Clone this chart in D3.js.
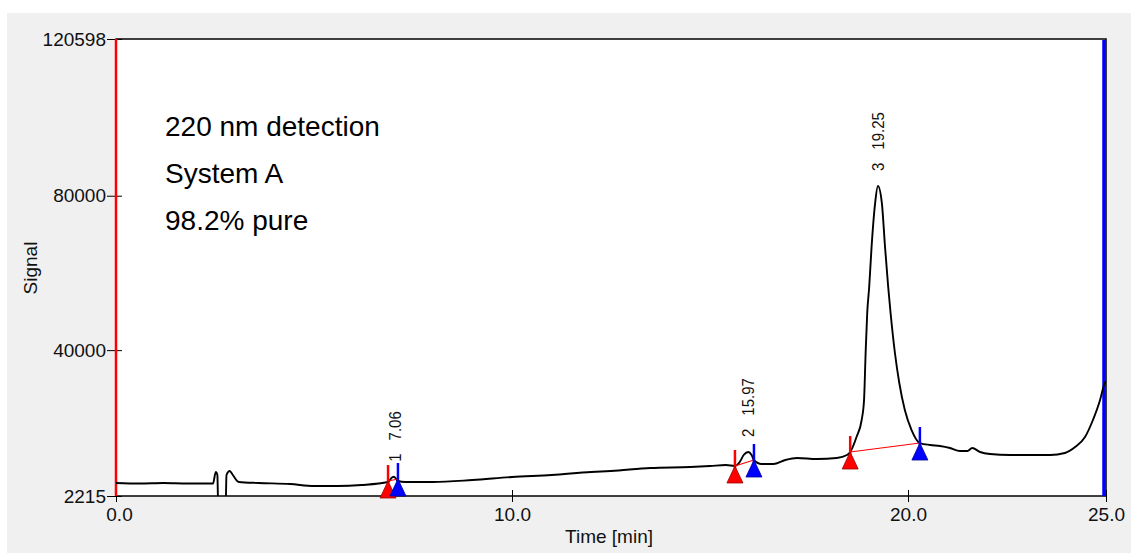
<!DOCTYPE html>
<html lang="en">
	<head>
		<meta charset="utf-8">
		<title>Chromatogram 220 nm</title>
		<script type="text/javascript" src="https://cdn.jsdelivr.net/npm/d3@7"></script>
		<style type="text/css">
			body { margin: 0; background: #fff; }
			text { font-family: "Liberation Sans", Arial, sans-serif; }
		</style>
	</head>
	<body>
		<script type="text/javascript">

			//signal trace, time in minutes and detector signal
			var times = [0.0, 0.6, 1.2, 1.8, 2.45, 2.52, 2.56, 2.58, 2.77, 2.79, 2.87, 2.95, 3.1, 3.6, 4.4, 5.0, 5.6, 6.2,
			             6.87, 6.97, 7.02, 7.12, 7.3, 8.0, 9.0, 10.0, 11.0, 12.0, 12.5, 13.5, 14.5, 15.0, 15.4,
			             15.63, 15.75, 15.85, 15.97, 16.05, 16.11, 16.3, 16.6, 16.9, 17.2, 17.7, 18.2, 18.46,
			             18.54, 18.70, 18.83, 18.89, 18.93, 18.97, 19.02, 19.08, 19.17, 19.24, 19.34, 19.42, 19.50,
			             19.56, 19.67, 19.78, 19.92, 20.09, 20.30, 20.56, 20.81, 21.06, 21.31, 21.5, 21.62, 21.82,
			             22.07, 22.58, 23.59, 23.96, 24.22, 24.47, 24.67, 24.85, 24.95, 25.0];
			var signal = [5580, 5450, 5580, 5450, 5450, 8430, 7660, 0, 0, 7660, 8690, 7660, 5840, 5580, 5320, 4800, 4800, 5060,
			              5840, 7000, 7210, 6100, 5840, 5840, 6360, 7140, 7660, 8430, 8690, 9470, 9730, 9990, 10240,
			              9990, 11020, 12830, 13610, 12830, 11540, 10500, 10500, 11540, 12060, 11800, 12060, 12830,
			              13610, 17500, 21900, 27080, 39260, 49620, 56350, 66720, 78110, 82520, 78110, 66720, 56350,
			              49620, 39260, 31490, 24490, 19310, 15940, 15430, 15170, 14650, 13870, 13870, 14650, 13610,
			              13090, 12830, 12830, 13350, 14910, 17500, 21900, 27080, 30970, 32000];

			//integrated peaks
			var peakIds = ["1", "2", "3"];
			var peakRT = [7.06, 15.97, 19.25];
			var peakTop = [7210, 13610, 82520];
			var peakStart = [6.87, 15.63, 18.54];
			var peakStartSig = [6100, 9990, 13610];
			var peakEnd = [7.12, 16.11, 20.30];
			var peakEndSig = [6620, 11540, 15940];

			var xTicks = [0, 10, 20, 25];
			var yTicks = [2215, 40000, 80000, 120598];
			var notes = ["220 nm detection", "System A", "98.2% pure"];

			var w = 1131;
			var h = 553;
			var plotL = 116, plotR = 1106, plotT = 39, plotB = 496;

			var dataset = times.map(function(t, i) { return { t: t, v: signal[i] }; });
			var peaks = peakIds.map(function(id, i) {
				return { id: id, rt: peakRT[i], top: peakTop[i],
				         s: peakStart[i], sv: peakStartSig[i], e: peakEnd[i], ev: peakEndSig[i] };
			});

			var xScale = d3.scaleLinear().domain([0, 25]).range([plotL, plotR]);
			var yScale = d3.scaleLinear().domain([2215, 120598]).range([plotB, plotT]);

			var svg = d3.select("body")
						.append("svg")
						.attr("width", w)
						.attr("height", h);

			svg.append("rect")
			   .attr("x", 7).attr("y", 13)
			   .attr("width", w - 7).attr("height", h - 13)
			   .attr("fill", "#f0f0f0");

			svg.append("rect")
			   .attr("x", plotL).attr("y", plotT)
			   .attr("width", plotR - plotL).attr("height", plotB - plotT)
			   .attr("fill", "#fff")
			   .attr("stroke", "#000")
			   .attr("stroke-width", 1.5);

			svg.append("clipPath")
			   .attr("id", "plotclip")
			   .append("rect")
			   .attr("x", plotL).attr("y", plotT)
			   .attr("width", plotR - plotL).attr("height", plotB - plotT);

			//axes
			var yAxis = d3.axisLeft(yScale)
						  .tickValues(yTicks)
						  .tickFormat(function(d) { return d; })
						  .tickSize(9)
						  .tickPadding(1);
			var gy = svg.append("g")
			   .attr("transform", "translate(" + plotL + ",0)")
			   .call(yAxis);
			gy.select(".domain").remove();
			gy.selectAll(".tick line").attr("x1", 6).attr("stroke", "#000");
			gy.selectAll(".tick text")
			  .attr("font-size", "19px")
			  .attr("font-family", "'Liberation Sans', Arial, sans-serif")
			  .attr("fill", "#111");

			var xAxis = d3.axisBottom(xScale)
						  .tickValues(xTicks)
						  .tickFormat(d3.format(".1f"))
						  .tickSize(6)
						  .tickPadding(6);
			var gx = svg.append("g")
			   .attr("transform", "translate(0," + plotB + ")")
			   .call(xAxis);
			gx.select(".domain").remove();
			gx.selectAll(".tick line").attr("y1", -6).attr("stroke", "#000");
			gx.selectAll(".tick text")
			  .attr("font-size", "19px")
			  .attr("font-family", "'Liberation Sans', Arial, sans-serif")
			  .attr("fill", "#111")
			  .attr("dx", function(d) { return d === 0 ? 3 : 0; });

			svg.append("text")
			   .text("Time [min]")
			   .attr("x", 609).attr("y", 543)
			   .attr("text-anchor", "middle")
			   .attr("font-size", "19px")
			   .attr("fill", "#111");

			svg.append("text")
			   .text("Signal")
			   .attr("transform", "translate(37,268) rotate(-90)")
			   .attr("text-anchor", "middle")
			   .attr("font-size", "19px")
			   .attr("fill", "#111");

			//start and end markers on the frame
			svg.append("line")
			   .attr("x1", plotL).attr("x2", plotL)
			   .attr("y1", plotT).attr("y2", plotB)
			   .attr("stroke", "#f00").attr("stroke-width", 2.5);
			svg.append("line")
			   .attr("x1", plotR - 2).attr("x2", plotR - 2)
			   .attr("y1", plotT + 1).attr("y2", plotB)
			   .attr("stroke", "#00f").attr("stroke-width", 3.5);

			//trace
			var line = d3.line()
						 .x(function(d) { return xScale(d.t); })
						 .y(function(d) { return yScale(d.v); })
						 .curve(d3.curveMonotoneX);

			svg.append("path")
			   .datum(dataset)
			   .attr("clip-path", "url(#plotclip)")
			   .attr("d", line)
			   .attr("fill", "none")
			   .attr("stroke", "#000")
			   .attr("stroke-width", 1.9);

			//peak baselines
			svg.selectAll("line.base")
			   .data(peaks)
			   .enter()
			   .append("line")
			   .attr("class", "base")
			   .attr("x1", function(d) { return xScale(d.s); })
			   .attr("y1", function(d) { return yScale(d.sv); })
			   .attr("x2", function(d) { return xScale(d.e); })
			   .attr("y2", function(d) { return yScale(d.ev); })
			   .attr("stroke", "#f00")
			   .attr("stroke-width", 1.2);

			function marker(cls, tKey, vKey, colour, edge) {
				svg.selectAll("line." + cls)
				   .data(peaks)
				   .enter()
				   .append("line")
				   .attr("class", cls)
				   .attr("x1", function(d) { return xScale(d[tKey]); })
				   .attr("x2", function(d) { return xScale(d[tKey]); })
				   .attr("y1", function(d) { return yScale(d[vKey]) - 16; })
				   .attr("y2", function(d) { return yScale(d[vKey]) + 4; })
				   .attr("stroke", colour)
				   .attr("stroke-width", 2.5);

				svg.selectAll("path." + cls)
				   .data(peaks)
				   .enter()
				   .append("path")
				   .attr("class", cls)
				   .attr("d", function(d) {
					var px = xScale(d[tKey]), py = yScale(d[vKey]);
					return "M" + px + "," + py + "L" + (px + 8) + "," + (py + 17) + "L" + (px - 8) + "," + (py + 17) + "Z";
				   })
				   .attr("fill", colour)
				   .attr("stroke", edge)
				   .attr("stroke-width", 0.8);
			}
			marker("start", "s", "sv", "#ff0000", "#900");
			marker("end", "e", "ev", "#0000ff", "#009");

			//peak labels
			var labels = svg.selectAll("text.peak")
			   .data(peaks)
			   .enter()
			   .append("text")
			   .attr("class", "peak")
			   .attr("transform", function(d) {
				return "translate(" + xScale(d.rt) + "," + (yScale(d.top) - 15) + ") rotate(-90) scale(1,1.12)";
			   })
			   .attr("dy", "0.35em")
			   .attr("font-size", "15px")
			   .attr("fill", "#111");
			labels.append("tspan").text(function(d) { return d.id; });
			labels.append("tspan").attr("dx", 13).text(function(d) { return d.rt.toFixed(2); });

			//notes
			svg.selectAll("text.note")
			   .data(notes)
			   .enter()
			   .append("text")
			   .attr("class", "note")
			   .text(function(d) { return d; })
			   .attr("x", 165)
			   .attr("y", function(d, i) { return 136 + i * 47; })
			   .attr("font-size", "28px")
			   .attr("fill", "#000");

		</script>
	</body>
</html>
